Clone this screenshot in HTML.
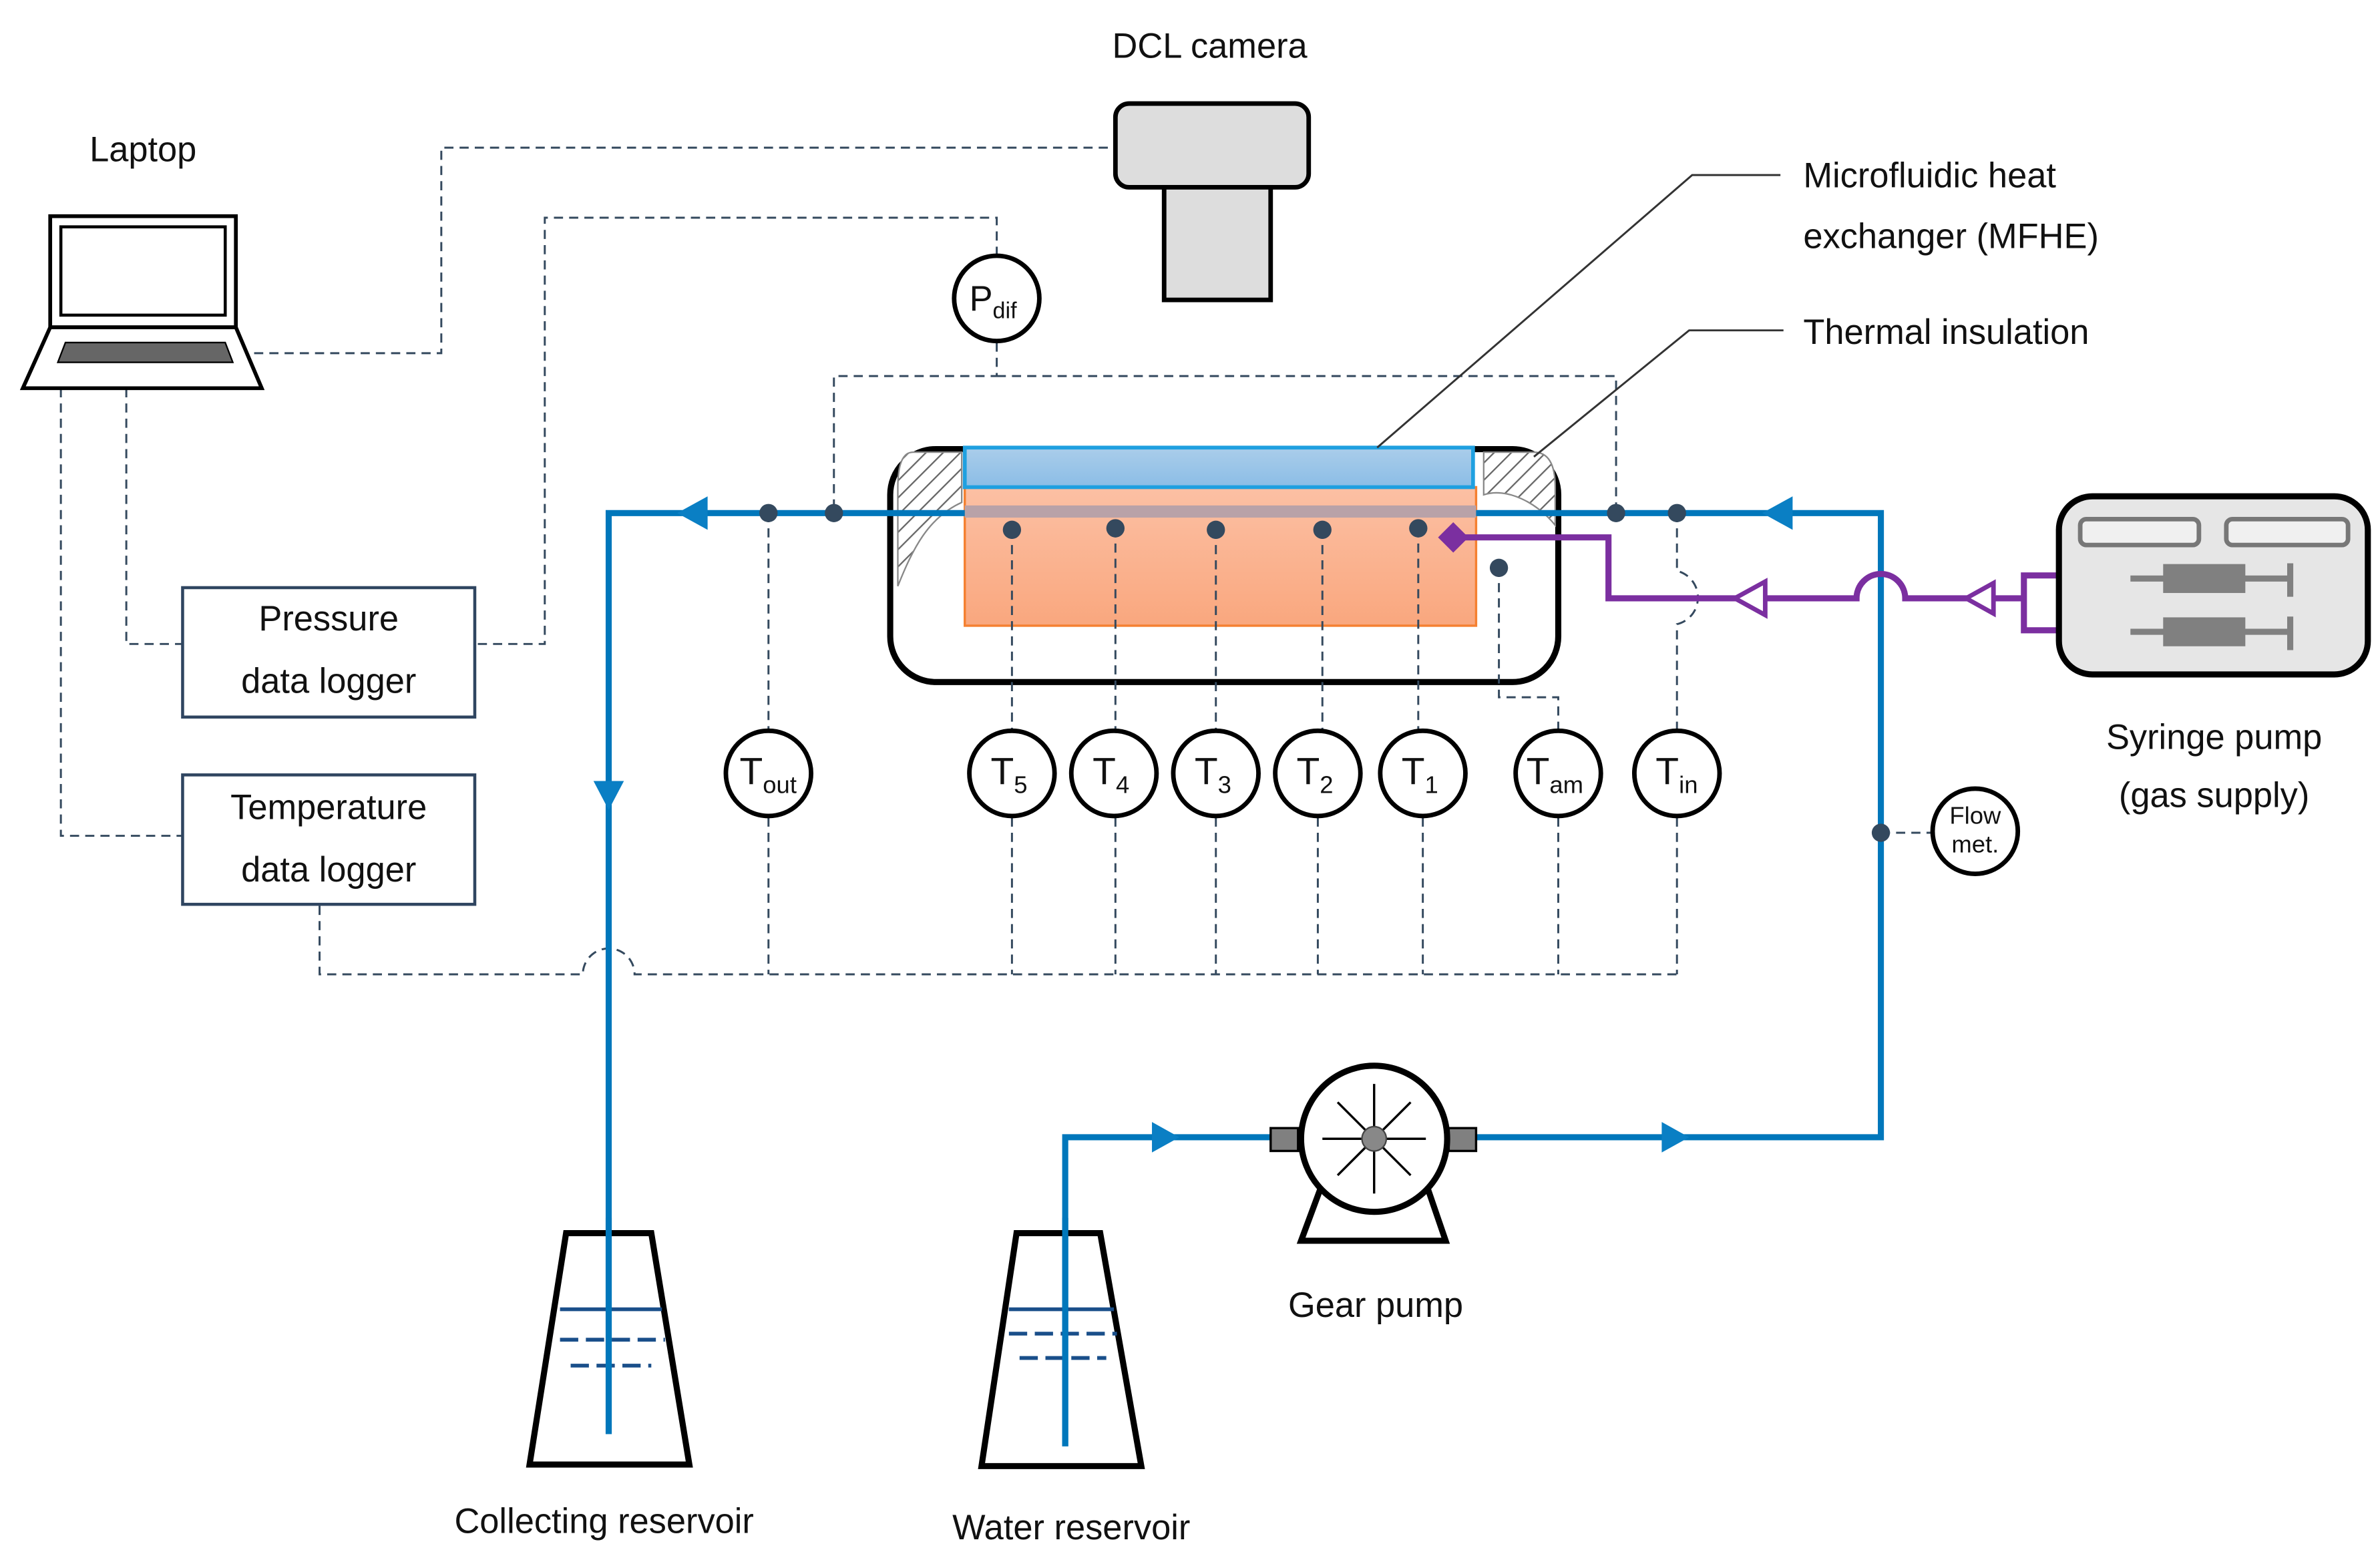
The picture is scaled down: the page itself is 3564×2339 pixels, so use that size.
<!DOCTYPE html>
<html><head><meta charset="utf-8"><style>html,body{margin:0;padding:0;background:#fff}svg{display:block}text{font-family:"Liberation Sans",sans-serif;fill:#111}</style></head>
<body>
<svg width="3564" height="2339" viewBox="0 0 1564 1026" preserveAspectRatio="none" xmlns="http://www.w3.org/2000/svg">
<defs>
<linearGradient id="bl" x1="0" y1="0" x2="0" y2="1"><stop offset="0" stop-color="#aacdea"/><stop offset="1" stop-color="#8bbde6"/></linearGradient>
<linearGradient id="or" x1="0" y1="0" x2="0" y2="1"><stop offset="0" stop-color="#fcc0a4"/><stop offset="1" stop-color="#f9a77e"/></linearGradient>
<pattern id="hatch" width="8" height="8" patternUnits="userSpaceOnUse" patternTransform="rotate(45)"><rect width="8" height="8" fill="#fff"/><line x1="0" y1="0" x2="0" y2="8" stroke="#666" stroke-width="2"/></pattern>
</defs>
<!-- dashed signal lines -->
<g fill="none" stroke="#34495e" stroke-width="1.3" stroke-dasharray="6,4">
<path d="M728 97 H290 V232 H165"/>
<path d="M655 168 V143 H358 V423 H312"/>
<path d="M83 255 V423 H120"/>
<path d="M40 255 V549 H120"/>
<path d="M655 225 V247 H548 V337 M655 247 H1062 V337"/>
<path d="M210 595 V640 H383 A17 17 0 0 1 417 640 H1102"/>
<path d="M505 537 V640 M665 537 V640 M733 537 V640 M799 537 V640 M866 537 V640 M935 537 V640 M1024 537 V640 M1102 537 V640"/>
<path d="M1236 547 H1270"/>
</g>
<!-- camera -->
<rect x="733" y="68" width="127" height="55" rx="9" fill="#ddd" stroke="#000" stroke-width="3"/>
<rect x="765" y="123" width="70" height="74" fill="#ddd" stroke="#000" stroke-width="3"/>
<text x="795" y="38" font-size="23" text-anchor="middle">DCL camera</text>
<!-- laptop -->
<text x="94" y="106" font-size="23" text-anchor="middle">Laptop</text>
<rect x="33" y="142" width="122" height="73" fill="#fff" stroke="#000" stroke-width="2.5"/>
<rect x="40" y="149" width="108" height="58" fill="#fff" stroke="#000" stroke-width="2"/>
<path d="M33 215 H155 L172 255 H15 Z" fill="#fff" stroke="#000" stroke-width="2.5"/>
<path d="M43 225 H148 L153 238 H38 Z" fill="#666" stroke="#000" stroke-width="1"/>
<!-- loggers -->
<rect x="120" y="386" width="192" height="85" fill="#fff" stroke="#2f4560" stroke-width="2"/>
<text x="216" y="414" font-size="23" text-anchor="middle">Pressure</text>
<text x="216" y="455" font-size="23" text-anchor="middle">data logger</text>
<rect x="120" y="509" width="192" height="85" fill="#fff" stroke="#2f4560" stroke-width="2"/>
<text x="216" y="538" font-size="23" text-anchor="middle">Temperature</text>
<text x="216" y="579" font-size="23" text-anchor="middle">data logger</text>
<!-- Pdif -->
<circle cx="655" cy="196" r="28" fill="#fff" stroke="#000" stroke-width="3"/>
<text x="637" y="204" font-size="23">P<tspan font-size="15" dy="5">dif</tspan></text>
<!-- MFHE -->
<rect x="585" y="295" width="439" height="153" rx="30" fill="#fff" stroke="#000" stroke-width="4"/>
<path d="M600 297 H632 V330 C610 340 600 360 590 385 V320 Q590 297 600 297Z" fill="url(#hatch)" stroke="#888" stroke-width="1"/>
<path d="M975 297 H1008 Q1022 297 1022 320 V345 C1010 330 990 320 975 325Z" fill="url(#hatch)" stroke="#888" stroke-width="1"/>
<rect x="634" y="320" width="336" height="91" fill="url(#or)" stroke="#f58030" stroke-width="1.5"/>
<rect x="634" y="294" width="334" height="26" fill="url(#bl)" stroke="#1fa0e0" stroke-width="2.5"/>
<rect x="634" y="332" width="336" height="8" fill="#b9a2a8"/>
<g fill="none" stroke="#34495e" stroke-width="1.3" stroke-dasharray="6,4">
<path d="M505 337 V480 M665 348 V480 M733 347 V480 M799 348 V480 M869 348 V480 M932 347 V480 M985 373 V458 H1024 V480 M1102 337 V375 A18 18 0 0 1 1102 410 V480"/>
</g>
<!-- leaders -->
<path d="M1170 115 H1112 L905 294 M1172 217 H1110 L1008 300" fill="none" stroke="#333" stroke-width="1.3"/>
<text x="1185" y="123" font-size="23">Microfluidic heat</text>
<text x="1185" y="163" font-size="23">exchanger (MFHE)</text>
<text x="1185" y="226" font-size="23">Thermal insulation</text>
<!-- blue pipe -->
<g fill="none" stroke="#0077bb" stroke-width="4">
<path d="M400 942 V337 H634"/>
<path d="M970 337 H1236 V747 H970"/>
<path d="M835 747 H700 V950"/>
</g>
<g fill="#0a7fc4">
<path d="M445 337 L465 326 V348Z"/>
<path d="M1158 337 L1178 326 V348Z"/>
<path d="M400 532 L390 513 H410Z"/>
<path d="M775 747 L757 737 V757Z"/>
<path d="M1110 747 L1092 737 V757Z"/>
</g>
<!-- dots -->
<g fill="#34495e">
<circle cx="505" cy="337" r="6"/><circle cx="548" cy="337" r="6"/><circle cx="1062" cy="337" r="6"/><circle cx="1102" cy="337" r="6"/>
<circle cx="665" cy="348" r="6"/><circle cx="733" cy="347" r="6"/><circle cx="799" cy="348" r="6"/><circle cx="869" cy="348" r="6"/><circle cx="932" cy="347" r="6"/><circle cx="985" cy="373" r="6"/>
<circle cx="1236" cy="547" r="6"/>
</g>
<!-- purple -->
<g fill="none" stroke="#7b2fa0" stroke-width="4">
<path d="M960 353 H1057 V393 H1220 A16 16 0 0 1 1252 393 H1330"/>
<path d="M1400 378 H1330 V414 H1400"/>
</g>
<path d="M945 353 L955 343 L965 353 L955 363Z" fill="#7b2fa0"/>
<path d="M1140 393 L1160 382 V404Z" fill="#fff" stroke="#7b2fa0" stroke-width="3"/>
<path d="M1292 393 L1310 383 V403Z" fill="#fff" stroke="#7b2fa0" stroke-width="3"/>
<!-- syringe pump -->
<rect x="1353" y="326" width="203" height="117" rx="22" fill="#e6e6e6" stroke="#000" stroke-width="4"/>
<rect x="1367" y="341" width="78" height="17" rx="4" fill="#f0f0f0" stroke="#777" stroke-width="3"/>
<rect x="1463" y="341" width="80" height="17" rx="4" fill="#f0f0f0" stroke="#777" stroke-width="3"/>
<g fill="#808080" stroke="#808080">
<rect x="1422" y="371" width="53" height="18"/><path d="M1400 380 H1422 M1475 380 H1505 M1505 370 V392" stroke-width="4" fill="none"/>
<rect x="1422" y="406" width="53" height="18"/><path d="M1400 415 H1422 M1475 415 H1505 M1505 405 V427" stroke-width="4" fill="none"/>
</g>
<text x="1455" y="492" font-size="23" text-anchor="middle">Syringe pump</text>
<text x="1455" y="530" font-size="23" text-anchor="middle">(gas supply)</text>
<!-- sensor circles -->
<g fill="#fff" stroke="#000" stroke-width="3">
<circle cx="505" cy="508" r="28"/><circle cx="665" cy="508" r="28"/><circle cx="732" cy="508" r="28"/><circle cx="799" cy="508" r="28"/><circle cx="866" cy="508" r="28"/><circle cx="935" cy="508" r="28"/><circle cx="1024" cy="508" r="28"/><circle cx="1102" cy="508" r="28"/><circle cx="1298" cy="546" r="28"/>
</g>
<g font-size="25">
<text x="486" y="515">T<tspan font-size="16" dy="6">out</tspan></text>
<text x="651" y="515">T<tspan font-size="16" dy="6">5</tspan></text>
<text x="718" y="515">T<tspan font-size="16" dy="6">4</tspan></text>
<text x="785" y="515">T<tspan font-size="16" dy="6">3</tspan></text>
<text x="852" y="515">T<tspan font-size="16" dy="6">2</tspan></text>
<text x="921" y="515">T<tspan font-size="16" dy="6">1</tspan></text>
<text x="1003" y="515">T<tspan font-size="16" dy="6">am</tspan></text>
<text x="1088" y="515">T<tspan font-size="16" dy="6">in</tspan></text>
</g>
<text x="1298" y="541" font-size="16" text-anchor="middle">Flow</text>
<text x="1298" y="560" font-size="16" text-anchor="middle">met.</text>
<!-- gear pump -->
<rect x="835" y="741" width="18" height="15" fill="#808080" stroke="#000" stroke-width="1.5"/>
<rect x="952" y="741" width="18" height="15" fill="#808080" stroke="#000" stroke-width="1.5"/>
<path d="M868 780 L855 815 H950 L938 780" fill="#fff" stroke="#000" stroke-width="4"/>
<circle cx="903" cy="748" r="48" fill="#fff" stroke="#000" stroke-width="4"/>
<g stroke="#000" stroke-width="1.5">
<line x1="903" y1="712" x2="903" y2="784"/><line x1="869" y1="748" x2="937" y2="748"/>
<line x1="879" y1="724" x2="927" y2="772"/><line x1="927" y1="724" x2="879" y2="772"/>
</g>
<circle cx="903" cy="748" r="8" fill="#888" stroke="#444"/>
<text x="904" y="865" font-size="23" text-anchor="middle">Gear pump</text>
<!-- beakers -->
<path d="M372 810 H428 L453 962 H348 Z" fill="none" stroke="#000" stroke-width="4"/>
<path d="M645 963 L668 810 H723 L750 963 Z" fill="none" stroke="#000" stroke-width="4"/>
<g stroke="#1a4f8a" stroke-width="2.5">
<line x1="368" y1="860" x2="435" y2="860"/><line x1="368" y1="880" x2="437" y2="880" stroke-dasharray="12,5"/><line x1="375" y1="897" x2="428" y2="897" stroke-dasharray="12,5"/>
<line x1="663" y1="860" x2="732" y2="860"/><line x1="663" y1="876" x2="734" y2="876" stroke-dasharray="12,5"/><line x1="670" y1="892" x2="727" y2="892" stroke-dasharray="12,5"/>
</g>
<path d="M400 800 V942 M700 800 V950" stroke="#0077bb" stroke-width="4"/>
<text x="397" y="1007" font-size="23" text-anchor="middle">Collecting reservoir</text>
<text x="704" y="1011" font-size="23" text-anchor="middle">Water reservoir</text>
</svg>
</body></html>
